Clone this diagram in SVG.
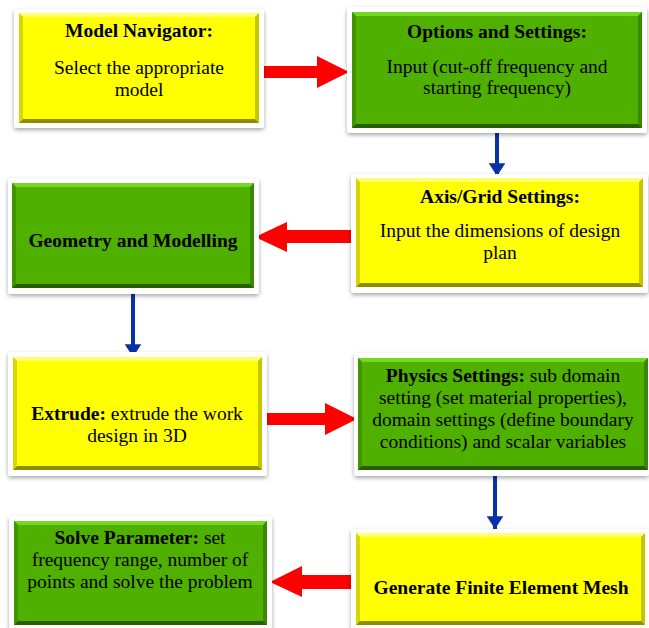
<svg xmlns="http://www.w3.org/2000/svg" width="649" height="628" viewBox="0 0 649 628">
<defs>
<filter id="sh" x="-10%" y="-10%" width="120%" height="130%">
<feDropShadow dx="0" dy="2" stdDeviation="2" flood-color="#000" flood-opacity="0.35"/>
</filter>
<marker id="bh" viewBox="0 0 10 10" refX="10" refY="5" markerWidth="3.2" markerHeight="4.2" orient="auto" markerUnits="strokeWidth" preserveAspectRatio="none">
<path d="M0,0 L10,5 L0,10 z" fill="#0832a6"/>
</marker>
</defs>
<style>
.frame{fill:#fff;filter:url(#sh)}
.y{fill:#ffff00}
.g{fill:#50b000}
.yt{fill:#ffff70}.yl{fill:#d6d600}.yr{fill:#c4c400}.yb{fill:#8c8c00}
.gt{fill:#72d820}.gl{fill:#409400}.gr{fill:#3a8800}.gb{fill:#285e00}
text{font-family:"Liberation Serif","Times New Roman",serif;font-size:19.5px;fill:#000;text-anchor:middle}
.b{font-weight:bold}
.red{fill:#ff0000}
.blue{stroke:#0832a6;stroke-width:4;fill:none;marker-end:url(#bh)}
</style>

<g id="connectors">
<polygon class="red" points="263,66 317,66 317,56 349,72 317,88 317,78 263,78"/>
<polygon class="red" points="355,230 287,230 287,222 255,237 287,252 287,243 355,243"/>
<polygon class="red" points="263,413 325,413 325,403 357,419 325,435 325,425 263,425"/>
<polygon class="red" points="355,575 302,575 302,566 270,582 302,597 302,589 355,589"/>
<line class="blue" x1="497" y1="133" x2="497" y2="176"/>
<line class="blue" x1="133" y1="293" x2="133" y2="357"/>
<line class="blue" x1="495" y1="476" x2="495" y2="529"/>
</g>

<g id="model-navigator">
<rect class="frame" x="14" y="9" width="250" height="119" rx="3"/>
<rect class="y" x="19" y="13" width="240" height="110"/>
<polygon class="yt" points="19,13 259,13 255,17 23,17"/>
<polygon class="yl" points="19,13 23,17 23,119 19,123"/>
<polygon class="yr" points="259,13 255,17 255,119 259,123"/>
<polygon class="yb" points="19,123 259,123 255,119 23,119"/>
<text class="b" x="139" y="37">Model Navigator:</text>
<text x="139" y="74">Select the appropriate</text>
<text x="139" y="96">model</text>
</g>

<g id="options-settings">
<rect class="frame" x="347" y="7" width="300" height="126" rx="3"/>
<rect class="g" x="352" y="12" width="290" height="116"/>
<polygon class="gt" points="352,12 642,12 638,16 356,16"/>
<polygon class="gl" points="352,12 356,16 356,124 352,128"/>
<polygon class="gr" points="642,12 638,16 638,124 642,128"/>
<polygon class="gb" points="352,128 642,128 638,124 356,124"/>
<text class="b" x="497" y="38">Options and Settings:</text>
<text x="497" y="73">Input (cut-off frequency and</text>
<text x="497" y="94">starting frequency)</text>
</g>

<g id="axis-grid">
<rect class="frame" x="351" y="174" width="297" height="119" rx="3"/>
<rect class="y" x="356" y="178" width="287" height="109"/>
<polygon class="yt" points="356,178 643,178 639,182 360,182"/>
<polygon class="yl" points="356,178 360,182 360,283 356,287"/>
<polygon class="yr" points="643,178 639,182 639,283 643,287"/>
<polygon class="yb" points="356,287 643,287 639,283 360,283"/>
<text class="b" x="500" y="203">Axis/Grid Settings:</text>
<text x="500" y="237">Input the dimensions of design</text>
<text x="500" y="259">plan</text>
</g>

<g id="geometry-modelling">
<rect class="frame" x="8" y="178" width="251" height="116" rx="3"/>
<rect class="g" x="12" y="183" width="242" height="105"/>
<polygon class="gt" points="12,183 254,183 250,187 16,187"/>
<polygon class="gl" points="12,183 16,187 16,284 12,288"/>
<polygon class="gr" points="254,183 250,187 250,284 254,288"/>
<polygon class="gb" points="12,288 254,288 250,284 16,284"/>
<text class="b" x="133" y="247">Geometry and Modelling</text>
</g>

<g id="extrude">
<rect class="frame" x="8" y="352" width="259" height="124" rx="3"/>
<rect class="y" x="13" y="357" width="249" height="113"/>
<polygon class="yt" points="13,357 262,357 258,361 17,361"/>
<polygon class="yl" points="13,357 17,361 17,466 13,470"/>
<polygon class="yr" points="262,357 258,361 258,466 262,470"/>
<polygon class="yb" points="13,470 262,470 258,466 17,466"/>
<text x="137" y="420"><tspan class="b">Extrude:</tspan> extrude the work</text>
<text x="137" y="442">design in 3D</text>
</g>

<g id="physics-settings">
<rect class="frame" x="354" y="353" width="295" height="123" rx="3"/>
<rect class="g" x="358" y="358" width="290" height="112"/>
<polygon class="gt" points="358,358 648,358 644,362 362,362"/>
<polygon class="gl" points="358,358 362,362 362,466 358,470"/>
<polygon class="gr" points="648,358 644,362 644,466 648,470"/>
<polygon class="gb" points="358,470 648,470 644,466 362,466"/>
<text x="503" y="382"><tspan class="b">Physics Settings:</tspan> sub domain</text>
<text x="503" y="404">setting (set material properties),</text>
<text x="503" y="426">domain settings (define boundary</text>
<text x="503" y="448">conditions) and scalar variables</text>
</g>

<g id="generate-mesh">
<rect class="frame" x="351" y="529" width="298" height="101" rx="3"/>
<rect class="y" x="356" y="533" width="289" height="92"/>
<polygon class="yt" points="356,533 645,533 641,537 360,537"/>
<polygon class="yl" points="356,533 360,537 360,621 356,625"/>
<polygon class="yr" points="645,533 641,537 641,621 645,625"/>
<polygon class="yb" points="356,625 645,625 641,621 360,621"/>
<text class="b" x="501" y="594">Generate Finite Element Mesh</text>
</g>

<g id="solve-parameter">
<rect class="frame" x="9" y="516" width="263" height="114" rx="3"/>
<rect class="g" x="14" y="521" width="253" height="104"/>
<polygon class="gt" points="14,521 267,521 263,525 18,525"/>
<polygon class="gl" points="14,521 18,525 18,621 14,625"/>
<polygon class="gr" points="267,521 263,525 263,621 267,625"/>
<polygon class="gb" points="14,625 267,625 263,621 18,621"/>
<text x="140" y="544"><tspan class="b">Solve Parameter:</tspan> set</text>
<text x="140" y="566">frequency range, number of</text>
<text x="140" y="588">points and solve the problem</text>
</g>
</svg>
